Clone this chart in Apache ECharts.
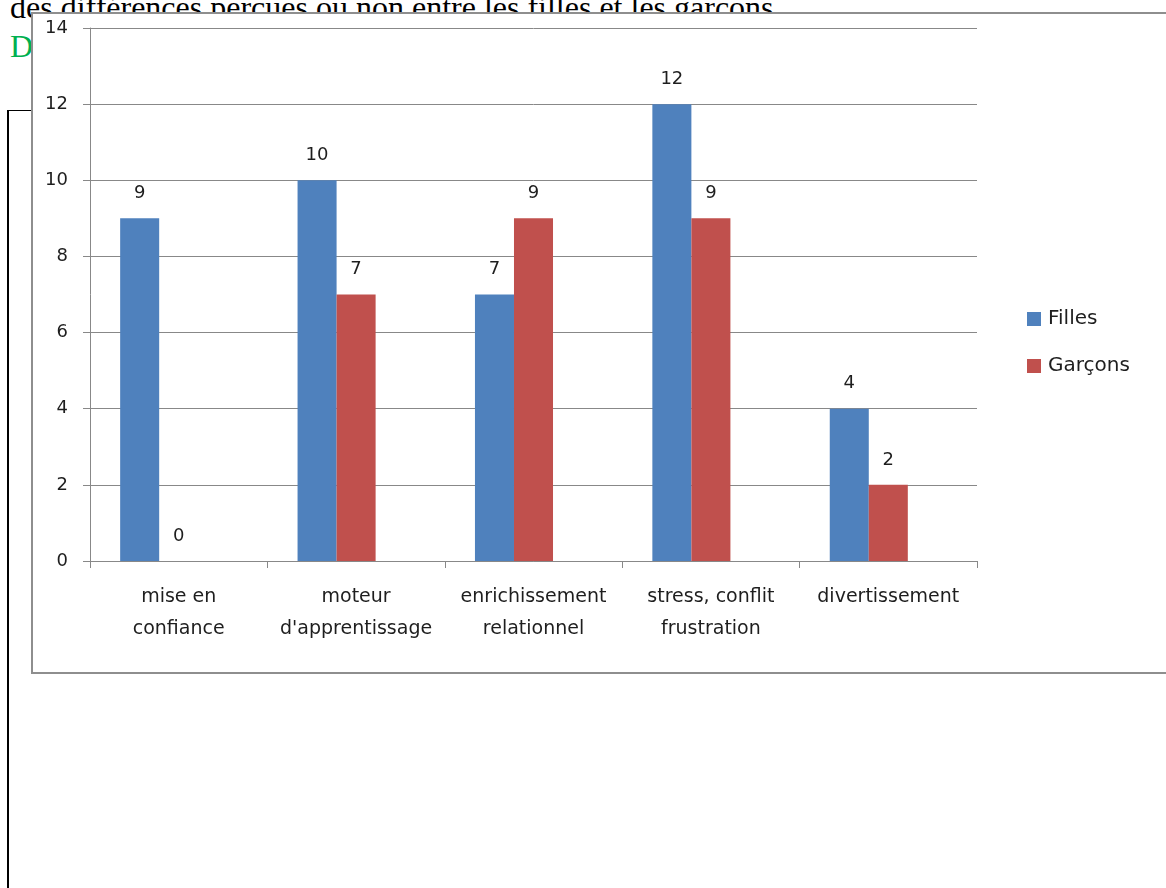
<!DOCTYPE html>
<html>
<head>
<meta charset="utf-8">
<script src="https://cdn.jsdelivr.net/npm/echarts@6/dist/echarts.min.js"></script>
<style>
  html, body { margin: 0; padding: 0; width: 1166px; height: 888px; overflow: hidden; background: #fff; }
  #doctext { position: absolute; left: 10px; top: -9px; font-family: "Liberation Serif", serif; font-size: 32px; line-height: 32px; color: #000; white-space: nowrap; }
  #docD { position: absolute; left: 10px; top: 30px; font-family: "Liberation Serif", serif; font-size: 32px; line-height: 32px; color: #00b050; }
  #frame { position: absolute; left: 7px; top: 110px; width: 1170px; height: 800px; border-left: 2px solid #000; border-top: 1px solid #000; }
  #box { position: absolute; left: 31px; top: 12px; width: 1150px; height: 658px; border: 2px solid #8e8e8e; background: #fff; }
  #chart { position: absolute; left: 0; top: 0; width: 1166px; height: 888px; }
</style>
</head>
<body>
<div id="doctext">des différences perçues ou non entre les filles et les garçons</div>
<div id="docD">D</div>
<div id="frame"></div>
<div id="box"></div>
<div id="chart"></div>
<script>
const categories = ["mise en\nconfiance", "moteur\nd'apprentissage", "enrichissement\nrelationnel", "stress, conflit\nfrustration", "divertissement"];
const seriesNames = ["Filles", "Garçons"];
const filles = [9, 10, 7, 12, 4];
const garcons = [0, 7, 9, 9, 2];
const yTicks = [0, 2, 4, 6, 8, 10, 12, 14];

const chart = echarts.init(document.getElementById('chart'), null, { renderer: 'canvas' });
const font = 'DejaVu Sans';
const labelStyle = {
  show: true, position: 'top', distance: 16,
  fontFamily: font, fontSize: 18, color: '#1e1e1e'
};
chart.setOption({
  backgroundColor: 'transparent',
  animation: false,
  color: ['#4f81bd', '#c0504d', '#9bbb59'],
  legend: {
    data: seriesNames,
    orient: 'vertical',
    left: 1027, top: 309, padding: 0,
    itemWidth: 14, itemHeight: 14, itemGap: 27,
    icon: 'rect',
    textStyle: { fontFamily: font, fontSize: 20, color: '#1e1e1e', padding: [0, 0, 0, 2] }
  },
  grid: { left: 90, right: 189, top: 28, bottom: 327, containLabel: false },
  xAxis: {
    type: 'category',
    data: categories,
    axisLine: { lineStyle: { color: '#888', width: 1 } },
    axisTick: { show: true, length: 7, lineStyle: { color: '#888' }, alignWithLabel: false },
    axisLabel: { fontFamily: font, fontSize: 19, color: '#1e1e1e', lineHeight: 32, margin: 20, interval: 0 }
  },
  yAxis: {
    type: 'value',
    min: yTicks[0], max: yTicks[yTicks.length - 1], interval: 2,
    axisLine: { show: true, lineStyle: { color: '#888', width: 1 } },
    axisTick: { show: true, length: 7, lineStyle: { color: '#888' } },
    splitLine: { lineStyle: { color: '#888', width: 1 } },
    axisLabel: { fontFamily: font, fontSize: 18, color: '#1e1e1e', margin: 22 }
  },
  series: [
    { name: seriesNames[0], type: 'bar', data: filles, barGap: '0%', barCategoryGap: '34%', label: labelStyle },
    { name: seriesNames[1], type: 'bar', data: garcons, barGap: '0%', barCategoryGap: '34%', label: labelStyle },
    { name: 'empty', type: 'bar', data: [null, null, null, null, null], barGap: '0%', barCategoryGap: '34%', label: { show: false } }
  ]
});
</script>
</body>
</html>
